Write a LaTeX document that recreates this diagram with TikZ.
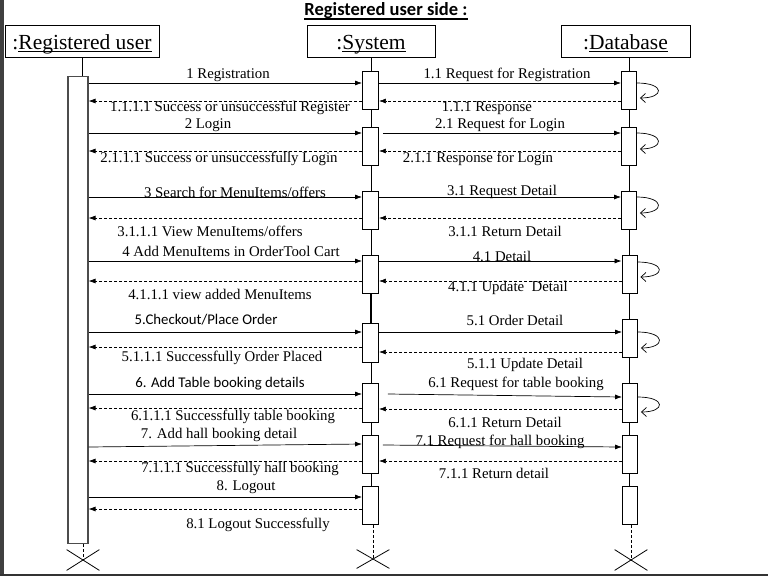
\documentclass[tikz,border=0pt]{standalone}
\usepackage{fontspec}
\setmainfont{Liberation Serif}
\newfontfamily\calib{Carlito}
\usetikzlibrary{arrows.meta,shapes.misc,backgrounds,calc}
\newcommand\myul[1]{\setbox0\hbox{#1}\rlap{\rule[-2.8pt]{\wd0}{1.1pt}}\box0}
\begin{document}
\begin{tikzpicture}[x=1pt,y=-1pt,
  lbl/.style={font=\fontsize{14.8}{17}\selectfont, inner sep=0pt},
  slbl/.style={font=\calib\fontsize{14.8}{17}\selectfont, inner sep=0pt},
  head/.style={draw, line width=0.9pt, font=\fontsize{21.5}{24}\selectfont, minimum height=32, inner sep=0pt, text height=17, text depth=1},
  bar/.style={draw, fill=white, line width=0.9pt, minimum width=16, minimum height=38, inner sep=0pt, anchor=north},
  call/.style={line width=0.7pt, -{Latex[length=7pt,width=5pt]}},
  ret/.style={line width=0.7pt, dash pattern=on 3pt off 2pt, -{Latex[length=7pt,width=5pt]}},
  selfarc/.style={line width=0.7pt, -{Straight Barb[length=5pt,width=9pt]}},
  life/.style={line width=0.8pt},
  dlife/.style={line width=0.8pt, dash pattern=on 3pt off 2pt},
  xmark/.style={cross out, draw, line width=0.8pt, minimum width=32, minimum height=20, inner sep=0pt}
]
\useasboundingbox (0,0) rectangle (768,576);
\fill[black!75] (0,0) rectangle (4.3,576);
\draw[black!80, line width=1.5pt] (0,575) -- (768,575);

% title
\node[font=\calib\bfseries\fontsize{18.5}{20}\selectfont, inner sep=0pt] (title) at (386,10.5) {Registered user side :};
\draw[line width=1.5pt] (title.south west) -- (title.south east);

% heads
\node[head, minimum width=154] (hu) at (82,41) {:\myul{Registered user}};
\node[head, minimum width=128] (hs) at (371,41) {:\myul{System}};
\node[head, minimum width=129] (hd) at (625.5,41) {:\myul{Database}};

% bars
\node[bar, draw=black!70, line width=1.1pt, minimum width=20, minimum height=467] (ub) at (78,76) {};
\node[bar] (s1) at (370.5,71) {};
\node[bar] (s2) at (370.5,127) {};
\node[bar] (s3) at (370.5,191) {};
\node[bar] (s4) at (370.5,255) {};
\node[bar, minimum height=39] (s5) at (370.5,323) {};
\node[bar, minimum height=39] (s6) at (370.5,383) {};
\node[bar] (s7) at (370.5,435) {};
\node[bar] (s8) at (370.5,486) {};
\node[bar, minimum width=15] (d1) at (629,71) {};
\node[bar, minimum width=15] (d2) at (629,127) {};
\node[bar, minimum width=15] (d3) at (629,191) {};
\node[bar, minimum width=15] (d4) at (629.5,255) {};
\node[bar, minimum width=15] (d5) at (630,319) {};
\node[bar, minimum width=15, minimum height=39] (d6) at (630,383) {};
\node[bar, minimum width=15] (d7) at (630,435) {};
\node[bar, minimum width=15] (d8) at (630,486) {};

% destruction marks
\node[xmark] (xu) at (83,560) {};
\node[xmark, minimum height=18] (xs) at (373,559) {};
\node[xmark] (xd) at (631,560) {};

% lifelines
\begin{scope}[on background layer]
\draw[life] (hu.south) -- (hu.south |- ub.north);
\draw[dlife] (xu.center |- ub.south) -- (xu.center);
\draw[life] (hs.south) -- (hs.south |- s8.south);
\draw[line width=2pt] (hs.south |- s4.south) -- (hs.south |- s5.north);
\draw[dlife] (xs.center |- s8.south) -- (xs.center);
\draw[life] (d1.north |- hd.south) -- (d1.north |- d8.south);
\draw[dlife] (xd.center |- d8.south) -- (xd.center);
\end{scope}

% 1
\draw[call] (ub.east |- 0,83) -- (s1.west |- 0,83);
\draw[call] (s1.east |- 0,83) -- (d1.west |- 0,83);
\draw[ret] (d1.west |- 0,101) -- (s1.east |- 0,101);
\draw[ret] (s1.west |- 0,101) -- (ub.east |- 0,101);
\draw[selfarc] (d1.east |- 0,83) .. controls (665,83) and (665,98) .. ($(d1.east |- 0,98)+(3,0)$);
\node[lbl] (m1) at (228,75) {1 Registration};
\node[lbl] (r1) at (230,108) {1.1.1.1 Success or unsuccessful Register};
\node[lbl] (m11) at (507,75) {1.1 Request for Registration};
\node[lbl] (r11) at (487,108) {1.1.1 Response};

% 2
\draw[call] (ub.east |- 0,133) -- (s2.west |- 0,133);
\draw[call] ($(s2.east |- 0,133)+(4,0)$) -- (d2.west |- 0,133);
\draw[ret] (d2.west |- 0,151) -- (s2.east |- 0,151);
\draw[ret] (s2.west |- 0,151) -- (ub.east |- 0,151);
\draw[selfarc] (d2.east |- 0,133) .. controls (665,133) and (665,149) .. ($(d2.east |- 0,149)+(3,0)$);
\node[lbl] (m2) at (208,125) {2 Login};
\node[lbl] (r2) at (219,159) {2.1.1.1 Success or unsuccessfully Login};
\node[lbl] (m21) at (500,125) {2.1 Request for Login};
\node[lbl] (r21) at (478,159) {2.1.1 Response for Login};

% 3
\draw[call] (ub.east |- 0,197) -- (s3.west |- 0,197);
\draw[call] (s3.east |- 0,197) -- (d3.west |- 0,197);
\draw[ret] (d3.west |- 0,218) -- (s3.east |- 0,218);
\draw[ret] (s3.west |- 0,218) -- (ub.east |- 0,218);
\draw[selfarc] (d3.east |- 0,197) .. controls (665,197) and (665,213) .. ($(d3.east |- 0,213)+(3,0)$);
\node[lbl] (m3) at (235,192) {3 Search for MenuItems/offers};
\node[lbl] (r3) at (210,231) {3.1.1.1 View MenuItems/offers};
\node[lbl] (m31) at (502,192) {3.1 Request Detail};
\node[lbl] (r31) at (505,231) {3.1.1 Return Detail};

% 4
\draw[call] (ub.east |- 0,261) -- (s4.west |- 0,261);
\draw[call] (s4.east |- 0,261) -- (d4.west |- 0,261);
\draw[ret] (d4.west |- 0,281) -- (s4.east |- 0,281);
\draw[ret] (s4.west |- 0,281) -- (ub.east |- 0,281);
\draw[selfarc] (d4.east |- 0,262) .. controls (666,262) and (666,277) .. ($(d4.east |- 0,277)+(3,0)$);
\node[lbl] (m4) at (231,251) {4 Add MenuItems in OrderTool Cart};
\node[lbl] (r4) at (220,294) {4.1.1.1 view added MenuItems};
\node[lbl] (m41) at (502,256) {4.1 Detail};
\node[lbl] (r41) at (508,288) {4.1.1 Update\ \ Detail};

% 5
\draw[call] (ub.east |- 0,332) -- (s5.west |- 0,332);
\draw[call] (s5.east |- 0,332) -- (d5.west |- 0,332);
\draw[ret] (d5.west |- 0,352) -- (s5.east |- 0,352);
\draw[ret] (s5.west |- 0,347) -- (ub.east |- 0,347);
\draw[selfarc] (d5.east |- 0,332) .. controls (666,332) and (666,348) .. ($(d5.east |- 0,348)+(3,0)$);
\node[slbl] (m5) at (206,320) {5.Checkout/Place Order};
\node[lbl] (r5) at (222,358) {5.1.1.1 Successfully Order Placed};
\node[lbl] (m51) at (515,320) {5.1 Order Detail};
\node[lbl] (r51) at (525,365) {5.1.1 Update Detail};

% 6
\draw[call] (ub.east |- 0,394) -- (s6.west |- 0,394);
\draw[call] ($(s6.east |- 0,394)+(9,0)$) -- (d6.west |- 0,397);
\draw[ret] (d6.west |- 0,409) -- (s6.east |- 0,409);
\draw[ret] (s6.west |- 0,408) -- (ub.east |- 0,408);
\draw[selfarc] (d6.east |- 0,397) .. controls (666,397) and (666,412) .. ($(d6.east |- 0,412)+(3,0)$);
\node[slbl] (m6) at (220,384) {6. Add Table booking details};
\node[lbl] (r6) at (233,417) {6.1.1.1 Successfully table booking};
\node[lbl] (m61) at (516,384) {6.1 Request for table booking};
\node[lbl] (r61) at (505,422) {6.1.1 Return Detail};

% 7
\draw[call] (ub.east |- 0,447) -- (s7.west |- 0,444);
\draw[call] ($(s7.east |- 0,445)+(4,0)$) -- (d7.west |- 0,447);
\draw[ret] (d7.west |- 0,461) -- (s7.east |- 0,461);
\draw[ret] (s7.west |- 0,461) -- (ub.east |- 0,461);
\node[lbl] (m7) at (219,435) {7. Add hall booking detail};
\node[lbl] (r7) at (240,469) {7.1.1.1 Successfully hall booking};
\node[lbl] (m71) at (500,442) {7.1 Request for hall booking};
\node[lbl] (r71) at (494,473) {7.1.1 Return detail};

% 8
\draw[call] (ub.east |- 0,497) -- (s8.west |- 0,497);
\draw[ret] (s8.west |- 0,509) -- (ub.east |- 0,509);
\node[lbl] (m8) at (246,487) {8. Logout};
\node[lbl] (r8) at (258,525) {8.1 Logout Successfully};
\end{tikzpicture}
\end{document}
